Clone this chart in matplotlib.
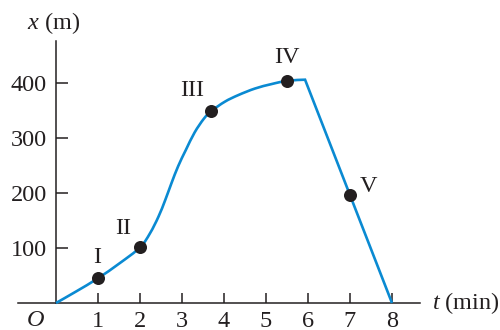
import matplotlib
matplotlib.use("Agg")
import matplotlib.pyplot as plt
from matplotlib.path import Path
from matplotlib.patches import PathPatch

plt.rcParams['font.family'] = ['Liberation Serif', 'DejaVu Serif']
plt.rcParams['mathtext.fontset'] = 'custom'
plt.rcParams['mathtext.it'] = 'Liberation Serif:italic'
plt.rcParams['mathtext.rm'] = 'Liberation Serif'

# curve: t (min), x (m)
t_vals = [0, 0.48, 1.0, 1.51, 2.0, 2.24, 2.44, 2.60, 2.75, 2.91, 3.09, 3.30,
          3.52, 3.70, 4.02, 4.34, 4.74, 5.13, 5.50, 5.93, 8.0]
x_vals = [0, 21, 45, 72, 101, 127, 157, 187, 218, 249, 278, 310,
          335, 349, 366, 378, 390, 398, 404, 406, 0]

# marked points
pt_labels = ['I', 'II', 'III', 'IV', 'V']
pt_t = [1.0, 2.0, 3.7, 5.5, 7.0]
pt_x = [45, 101, 349, 404, 197]
# label anchor positions (data units)
lab_t = [0.98, 1.6, 3.24, 5.5, 7.43]
lab_x = [82, 136, 387, 447, 211]

xticks = [1, 2, 3, 4, 5, 6, 7, 8]
yticks = [100, 200, 300, 400]

ink = '#231f20'
blue = '#0a8ad2'
FS = 17.5

fig = plt.figure(figsize=(5, 3.3), dpi=100)
ax = fig.add_axes([0, 0, 1, 1])
ax.set_xlim(-56 / 42, 444 / 42)
ax.set_ylim(-27 / 0.55, 303 / 0.55)
ax.patch.set_visible(False)

for s in ['top', 'right']:
    ax.spines[s].set_visible(False)
ax.spines['left'].set_position(('data', 0))
ax.spines['bottom'].set_position(('data', 0))
ax.spines['left'].set_bounds(0, 476)
ax.spines['bottom'].set_bounds(-0.9, 8.67)
for s in ['left', 'bottom']:
    ax.spines[s].set_color(ink)
    ax.spines[s].set_linewidth(1.1)

ax.set_xticks(xticks)
ax.set_yticks(yticks)
ax.set_xticklabels([str(v) for v in xticks])
ax.set_yticklabels([str(v) for v in yticks])
ax.tick_params(axis='y', direction='in', length=8.5, width=1.1, color=ink,
               labelsize=FS, labelcolor=ink, pad=6.5)
ax.tick_params(axis='x', direction='in', length=7, width=1.1, color=ink,
               labelsize=FS, labelcolor=ink, pad=6)

# smooth curve (Catmull-Rom as cubic Bezier) through the read points of the
# smooth part, then straight line for the final linear segment
n_smooth = len(t_vals) - 1
pts = list(zip(t_vals[:n_smooth], x_vals[:n_smooth]))
verts = [pts[0]]
codes = [Path.MOVETO]
for i in range(len(pts) - 1):
    p0 = pts[i - 1] if i > 0 else pts[i]
    p1 = pts[i]
    p2 = pts[i + 1]
    p3 = pts[i + 2] if i + 2 < len(pts) else p2
    c1 = (p1[0] + (p2[0] - p0[0]) / 6, p1[1] + (p2[1] - p0[1]) / 6)
    c2 = (p2[0] - (p3[0] - p1[0]) / 6, p2[1] - (p3[1] - p1[1]) / 6)
    verts += [c1, c2, p2]
    codes += [Path.CURVE4] * 3
verts.append((t_vals[-1], x_vals[-1]))
codes.append(Path.LINETO)
ax.add_patch(PathPatch(Path(verts, codes), facecolor='none', edgecolor=blue,
                       lw=1.9, joinstyle='miter', zorder=3))

ax.scatter(pt_t, pt_x, s=88, color=ink, zorder=4, linewidths=0)
for lab, tx, xx in zip(pt_labels, lab_t, lab_x):
    ax.text(tx, xx, lab, fontsize=FS, color=ink, ha='center', va='center')

ax.text(-0.05, 550.9 - 23 / 0.55, '$x$ (m)', fontsize=FS, color=ink,
        ha='center', va='center')
ax.text((432 - 56) / 42, 0, '$t$ (min)', fontsize=FS, color=ink,
        ha='left', va='center')
ax.text((35 - 56) / 42, -(320 - 303) / 0.55, '$O$', fontsize=FS, color=ink,
        ha='center', va='center')

fig.savefig('out.png', dpi=100)
